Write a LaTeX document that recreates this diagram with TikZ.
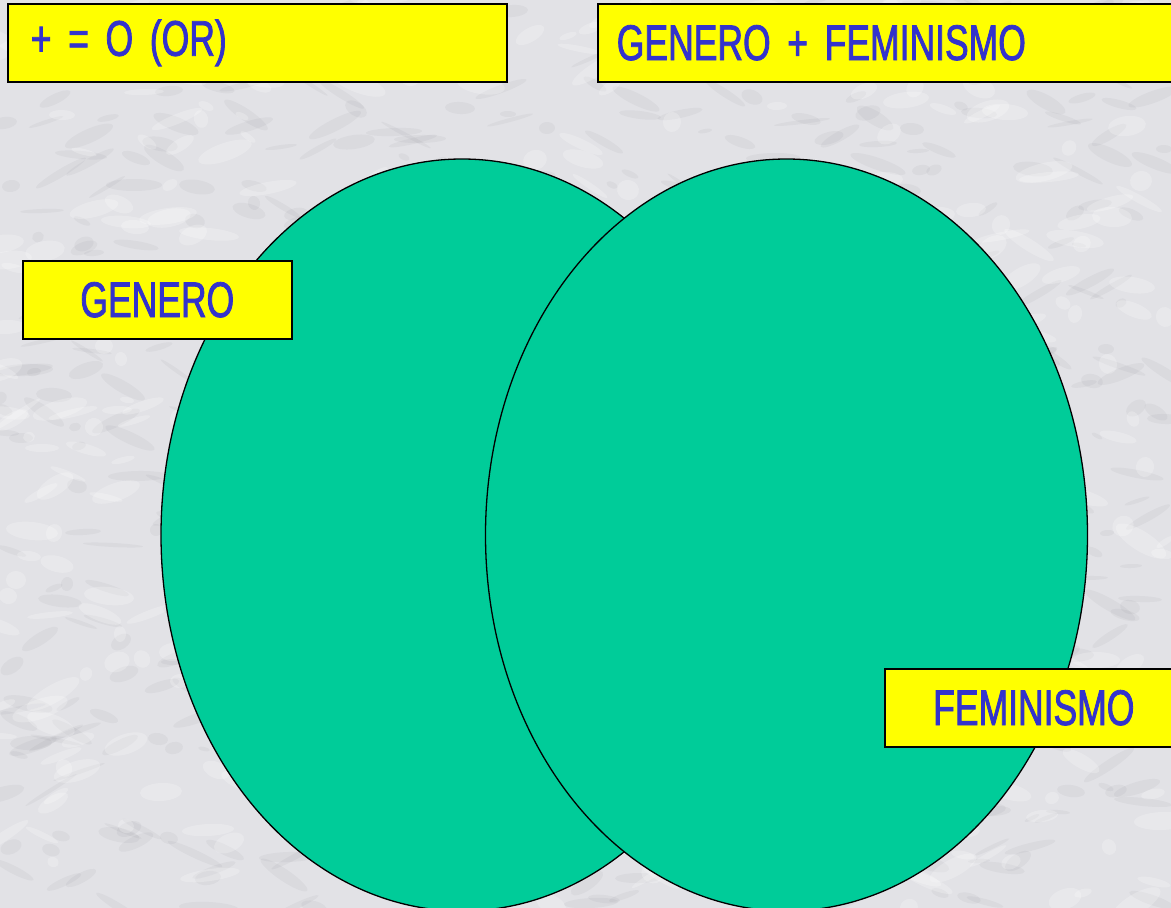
\documentclass[tikz,border=0pt]{standalone}
\usepackage{fontspec}
\newfontfamily\narrowfont[FakeStretch=0.71,FakeBold=1.6,WordSpace=0.75]{Liberation Sans}
\usetikzlibrary{shapes.geometric}
\definecolor{marble}{RGB}{226,226,230}
\definecolor{veingray}{RGB}{140,140,146}
\definecolor{venngreen}{RGB}{0,204,153}
\definecolor{labelyellow}{RGB}{255,255,0}
\definecolor{labelblue}{RGB}{51,51,204}
\tikzset{
  vennset/.style={ellipse, draw=black, line width=1.3pt, fill=venngreen,
    minimum width=602pt, minimum height=752pt, inner sep=0pt},
  labelbox/.style={draw=black, line width=1.6pt, fill=labelyellow,
    text=labelblue, font=\narrowfont\fontsize{50}{56}\selectfont,
    minimum height=78pt, inner sep=0pt, anchor=north west}
}
\begin{document}
\begin{tikzpicture}[x=1pt,y=-1pt]
\useasboundingbox (0,0) rectangle (1171,908);
% marble background
\fill[marble] (0,0) rectangle (1171,908);
\pgfmathsetseed{4242}
\foreach \i in {1,...,700}{
  \pgfmathsetmacro\xx{random(0,1171)}
  \pgfmathsetmacro\yy{random(0,908)}
  \pgfmathsetmacro\aa{random(6,30)}
  \pgfmathsetmacro\bb{random(2,7)}
  \pgfmathsetmacro\rr{random(-35,35)}
  \fill[veingray, opacity=0.09, rotate around={\rr:(\xx,\yy)}]
    (\xx,\yy) ellipse [x radius=\aa pt, y radius=\bb pt];
}
\foreach \i in {1,...,500}{
  \pgfmathsetmacro\xx{random(0,1171)}
  \pgfmathsetmacro\yy{random(0,908)}
  \pgfmathsetmacro\aa{random(6,30)}
  \pgfmathsetmacro\bb{random(3,10)}
  \pgfmathsetmacro\rr{random(-35,35)}
  \fill[white, opacity=0.22, rotate around={\rr:(\xx,\yy)}]
    (\xx,\yy) ellipse [x radius=\aa pt, y radius=\bb pt];
}
% title boxes
\node[labelbox, inner xsep=23pt, text width=453pt, align=left] (ortitle) at (7,3) {+ = O (OR)};
\node[labelbox, inner xsep=19pt, text width=562pt, align=left] (maintitle) at (597,3) {GENERO + FEMINISMO};
% Venn sets
\node[vennset] (genero) at (462,535) {};
\node[vennset] (feminismo) at (786.5,535) {};
% set labels
\node[labelbox, minimum width=269pt, align=center] (generolbl) at (22,260) {GENERO};
\node[labelbox, minimum width=298pt, align=center] (feminismolbl) at (884,668) {FEMINISMO};
\end{tikzpicture}
\end{document}
